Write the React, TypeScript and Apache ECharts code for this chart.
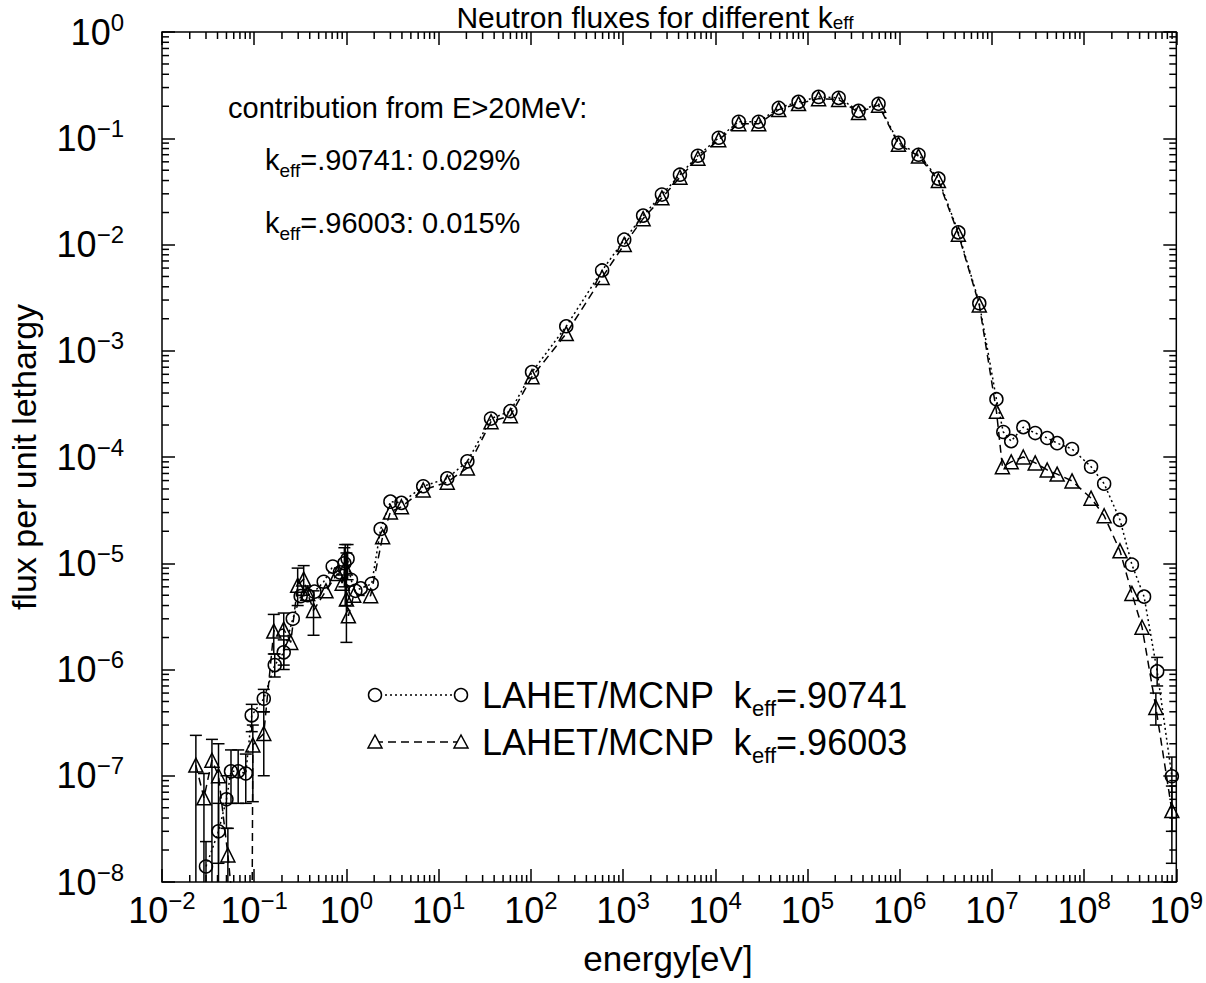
import React, { useEffect, useRef } from "react";
import * as echarts from "echarts";

// ---- data (energy in eV, flux per unit lethargy) ----
const energyA = [
  0.03, 0.041, 0.05, 0.056, 0.067, 0.081, 0.094, 0.127, 0.167, 0.209, 0.262, 0.319, 0.38, 0.45,
  0.567, 0.71, 0.85, 0.95, 1.03, 1.12, 1.25, 1.43, 1.88, 2.35, 3.0, 3.95, 6.8, 12.4, 20.5, 37, 60,
  103, 242, 593, 1030, 1650, 2640, 4140, 6480, 1.09e4, 1.8e4, 2.96e4, 4.88e4, 8.0e4, 1.32e5,
  2.18e5, 3.58e5, 5.9e5, 9.7e5, 1.6e6, 2.63e6, 4.33e6, 7.3e6, 1.12e7, 1.33e7, 1.62e7, 2.19e7,
  2.95e7, 3.98e7, 5.1e7, 7.4e7, 1.19e8, 1.65e8, 2.45e8, 3.3e8, 4.47e8, 6.2e8, 8.95e8,
];
const fluxA = [
  1.4e-8, 3.0e-8, 6.0e-8, 1.1e-7, 1.1e-7, 1.05e-7, 3.7e-7, 5.3e-7, 1.1e-6, 1.45e-6, 3.0e-6, 4.9e-6,
  5.0e-6, 5.4e-6, 6.7e-6, 9.3e-6, 8.2e-6, 1.0e-5, 1.1e-5, 7.0e-6, 5.5e-6, 5.8e-6, 6.4e-6, 2.1e-5,
  3.8e-5, 3.7e-5, 5.3e-5, 6.3e-5, 9.1e-5, 2.3e-4, 2.7e-4, 6.3e-4, 1.7e-3, 5.7e-3, 1.11e-2, 1.87e-2,
  2.95e-2, 4.54e-2, 6.85e-2, 0.101, 0.143, 0.143, 0.193, 0.22, 0.245, 0.24, 0.181, 0.211, 0.0907,
  0.07, 0.0417, 0.013, 2.8e-3, 3.5e-4, 1.72e-4, 1.41e-4, 1.91e-4, 1.68e-4, 1.51e-4, 1.35e-4,
  1.19e-4, 8.1e-5, 5.6e-5, 2.56e-5, 9.7e-6, 4.85e-6, 9.6e-7, 9.9e-8,
];

const energyB = [
  0.0233, 0.0285, 0.0348, 0.041, 0.0518, 0.093, 0.0966, 0.127, 0.163, 0.209, 0.249, 0.296, 0.344,
  0.38, 0.44, 0.6, 0.8, 0.9, 0.97, 1.0, 1.05, 1.2, 1.83, 2.47, 3.0, 3.95, 6.8, 12.4, 20.5, 37, 60,
  103, 242, 593, 1030, 1650, 2640, 4140, 6480, 1.09e4, 1.8e4, 2.96e4, 4.88e4, 8.0e4, 1.32e5,
  2.18e5, 3.58e5, 5.9e5, 9.7e5, 1.6e6, 2.63e6, 4.33e6, 7.3e6, 1.12e7, 1.3e7, 1.62e7, 2.19e7,
  2.95e7, 3.98e7, 5.1e7, 7.4e7, 1.19e8, 1.65e8, 2.45e8, 3.3e8, 4.25e8, 6.0e8, 8.95e8,
];
const fluxB = [
  1.26e-7, 6.2e-8, 1.4e-7, 1.0e-7, 1.8e-8, 1e-10, 1.95e-7, 2.5e-7, 2.3e-6, 2.4e-6, 1.8e-6, 6.2e-6,
  7.1e-6, 5.2e-6, 3.6e-6, 5.5e-6, 8.0e-6, 6.5e-6, 9.0e-6, 4.6e-6, 3.2e-6, 5.0e-6, 4.95e-6, 1.78e-5,
  3.04e-5, 3.4e-5, 4.9e-5, 5.8e-5, 7.9e-5, 2.15e-4, 2.45e-4, 5.7e-4, 1.45e-3, 4.9e-3, 1.0e-2,
  1.75e-2, 2.75e-2, 4.3e-2, 6.5e-2, 0.097, 0.137, 0.137, 0.186, 0.212, 0.236, 0.232, 0.175, 0.205,
  0.088, 0.068, 0.04, 0.0125, 2.7e-3, 2.7e-4, 8.1e-5, 9.0e-5, 1.0e-4, 8.8e-5, 7.55e-5, 6.9e-5,
  5.95e-5, 4.1e-5, 2.8e-5, 1.31e-5, 5.2e-6, 2.5e-6, 4.4e-7, 4.7e-8,
];

// error bars (energy, lower, upper)
const errEnergyA = [0.03, 0.041, 0.05, 0.056, 0.067, 0.081, 0.094, 0.127, 0.167, 0.209, 0.95, 1.03, 6.2e8, 8.95e8];
const errLowA = [1e-9, 1.5e-8, 3.2e-8, 5.5e-8, 5.5e-8, 5.5e-8, 2.6e-7, 4.0e-7, 8.5e-7, 1.0e-6, 6e-6, 7e-6, 7e-7, 3e-8];
const errHighA = [2.4e-8, 5.5e-8, 1.0e-7, 1.75e-7, 1.75e-7, 1.6e-7, 4.7e-7, 6.5e-7, 1.4e-6, 1.9e-6, 1.4e-5, 1.5e-5, 1.3e-6, 1.5e-7];

const errEnergyB = [0.0233, 0.0285, 0.0348, 0.041, 0.0518, 0.0966, 0.127, 0.163, 0.209, 0.296, 0.344, 0.44, 0.97, 1.0, 6.0e8, 8.95e8];
const errLowB = [1e-9, 1e-9, 1e-9, 1e-9, 1e-9, 5.7e-8, 1.0e-7, 1.4e-6, 1.1e-6, 4e-6, 5e-6, 2.1e-6, 4e-6, 1.8e-6, 3e-7, 1.5e-8];
const errHighB = [2.4e-7, 1.05e-7, 2.2e-7, 2.0e-7, 3.2e-8, 3.0e-7, 4.0e-7, 3.3e-6, 3.4e-6, 9e-6, 9.5e-6, 5.5e-6, 1.5e-5, 1.25e-5, 6e-7, 8e-8];

const xMin = 1e-2;
const xMax = 1e9;
const yMin = 1e-8;
const yMax = 1;

const FONT = "'Liberation Sans', Arial, Helvetica, sans-serif";

const expLabel = (v: number) => {
  const e = Math.round(Math.log10(v));
  const s = e < 0 ? "\u2212" + -e : String(e);
  return `{b|10}{s|${s}}`;
};

const tickRich = {
  b: { fontSize: 36, fontFamily: FONT, color: "#000", lineHeight: 44, verticalAlign: "middle" },
  s: { fontSize: 24, fontFamily: FONT, color: "#000", lineHeight: 24, verticalAlign: "top" },
};

function App() {
  const ref = useRef<HTMLDivElement>(null);

  useEffect(() => {
    if (!ref.current) return;
    const chart = echarts.init(ref.current, null, { renderer: "svg" });

    // minor tick positions (2..9 in every decade) for axis decoration
    const minorX: number[][] = [];
    for (let k = -2; k < 9; k++) for (let m = 2; m <= 9; m++) minorX.push([m * Math.pow(10, k), 1e-4]);
    const minorY: number[][] = [];
    for (let k = -8; k < 0; k++) for (let m = 2; m <= 9; m++) minorY.push([1, m * Math.pow(10, k)]);

    const black = "#000";

    const errSeries = (E: number[], lo: number[], hi: number[]) => ({
      type: "custom",
      coordinateSystem: "cartesian2d",
      clip: true,
      silent: true,
      z: 1,
      encode: { x: 0, y: [1, 2] },
      data: E.map((e, i) => [e, lo[i], hi[i]]),
      renderItem: (params: any, api: any) => {
        const e = api.value(0);
        const pLo = api.coord([e, api.value(1)]);
        const pHi = api.coord([e, api.value(2)]);
        const w = 6;
        return {
          type: "group",
          children: [
            { type: "line", shape: { x1: pLo[0], y1: pLo[1], x2: pHi[0], y2: pHi[1] }, style: { stroke: black, lineWidth: 1.5 } },
            { type: "line", shape: { x1: pHi[0] - w, y1: pHi[1], x2: pHi[0] + w, y2: pHi[1] }, style: { stroke: black, lineWidth: 1.5 } },
            { type: "line", shape: { x1: pLo[0] - w, y1: pLo[1], x2: pLo[0] + w, y2: pLo[1] }, style: { stroke: black, lineWidth: 1.5 } },
          ],
        };
      },
    });

    const option: any = {
      animation: false,
      backgroundColor: "#fff",
      grid: {
        left: 162,
        right: 29,
        top: 32,
        bottom: 101,
        show: true,
        borderColor: black,
        borderWidth: 1.5,
        backgroundColor: "transparent",
      },
      xAxis: [
        {
          type: "log",
          logBase: 10,
          min: xMin,
          max: xMax,
          interval: 1,
          position: "bottom",
          axisLine: { show: false },
          axisTick: { show: true, inside: true, length: 13, lineStyle: { color: black, width: 1.5 } },
          splitLine: { show: false },
          axisLabel: {
            show: true,
            margin: 6,
            formatter: expLabel,
            rich: tickRich,
            showMinLabel: true,
            showMaxLabel: true,
            hideOverlap: false,
          },
        },
        {
          type: "log",
          logBase: 10,
          min: xMin,
          max: xMax,
          interval: 1,
          position: "top",
          axisLine: { show: false },
          axisTick: { show: true, inside: true, length: 13, lineStyle: { color: black, width: 1.5 } },
          splitLine: { show: false },
          axisLabel: { show: false },
        },
      ],
      yAxis: [
        {
          type: "log",
          logBase: 10,
          min: yMin,
          max: yMax,
          interval: 1,
          position: "left",
          axisLine: { show: false },
          axisTick: { show: true, inside: true, length: 13, lineStyle: { color: black, width: 1.5 } },
          splitLine: { show: false },
          axisLabel: {
            show: true,
            margin: 38,
            formatter: expLabel,
            rich: tickRich,
            showMinLabel: true,
            showMaxLabel: true,
            hideOverlap: false,
          },
        },
        {
          type: "log",
          logBase: 10,
          min: yMin,
          max: yMax,
          interval: 1,
          position: "right",
          axisLine: { show: false },
          axisTick: { show: true, inside: true, length: 13, lineStyle: { color: black, width: 1.5 } },
          splitLine: { show: false },
          axisLabel: { show: false },
        },
      ],
      series: [
        {
          type: "custom",
          coordinateSystem: "cartesian2d",
          silent: true,
          data: minorX,
          renderItem: (params: any, api: any) => {
            const cs = params.coordSys;
            const x = api.coord([api.value(0), 1e-4])[0];
            const top = cs.y;
            const bot = cs.y + cs.height;
            return {
              type: "group",
              children: [
                { type: "line", shape: { x1: x, y1: bot, x2: x, y2: bot - 7 }, style: { stroke: black, lineWidth: 1.5 } },
                { type: "line", shape: { x1: x, y1: top, x2: x, y2: top + 7 }, style: { stroke: black, lineWidth: 1.5 } },
              ],
            };
          },
        },
        {
          type: "custom",
          coordinateSystem: "cartesian2d",
          silent: true,
          data: minorY,
          renderItem: (params: any, api: any) => {
            const cs = params.coordSys;
            const y = api.coord([1, api.value(1)])[1];
            const l = cs.x;
            const r = cs.x + cs.width;
            return {
              type: "group",
              children: [
                { type: "line", shape: { x1: l, y1: y, x2: l + 7, y2: y }, style: { stroke: black, lineWidth: 1.5 } },
                { type: "line", shape: { x1: r, y1: y, x2: r - 7, y2: y }, style: { stroke: black, lineWidth: 1.5 } },
              ],
            };
          },
        },
        errSeries(errEnergyA, errLowA, errHighA),
        errSeries(errEnergyB, errLowB, errHighB),
        {
          name: "LAHET/MCNP keff=.90741",
          type: "line",
          data: energyA.map((e, i) => [e, fluxA[i]]),
          symbol: "circle",
          symbolSize: 13,
          showAllSymbol: true,
          clip: true,
          z: 3,
          lineStyle: { color: black, width: 1.5, type: [2, 3] },
          itemStyle: { color: "rgba(255,255,255,0)", borderColor: black, borderWidth: 1.5 },
        },
        {
          name: "LAHET/MCNP keff=.96003",
          type: "line",
          data: energyB.map((e, i) => [e, fluxB[i]]),
          symbol: "triangle",
          symbolSize: 14,
          showAllSymbol: true,
          clip: true,
          z: 3,
          lineStyle: { color: black, width: 1.5, type: [8, 5] },
          itemStyle: { color: "rgba(255,255,255,0)", borderColor: black, borderWidth: 1.5 },
        },
      ],
      graphic: [
        // title
        {
          type: "text",
          x: 655,
          y: 17,
          style: {
            text: "{a|Neutron fluxes for different k}{s|eff}",
            align: "center",
            verticalAlign: "middle",
            rich: {
              a: { fontSize: 30, fontFamily: FONT, fill: black, lineHeight: 30, verticalAlign: "middle" },
              s: { fontSize: 19, fontFamily: FONT, fill: black, lineHeight: 19, verticalAlign: "bottom" },
            },
          },
        },
        // annotation
        {
          type: "text",
          x: 228,
          y: 108,
          style: { text: "contribution from E>20MeV:", font: `29px ${FONT}`, fill: black, align: "left", verticalAlign: "middle" },
        },
        {
          type: "text",
          x: 265,
          y: 160,
          style: {
            text: "{a|k}{s|eff}{a|=.90741: 0.029%}",
            align: "left",
            verticalAlign: "middle",
            rich: {
              a: { fontSize: 29, fontFamily: FONT, fill: black, lineHeight: 40, verticalAlign: "middle" },
              s: { fontSize: 19, fontFamily: FONT, fill: black, lineHeight: 19, verticalAlign: "bottom" },
            },
          },
        },
        {
          type: "text",
          x: 265,
          y: 223,
          style: {
            text: "{a|k}{s|eff}{a|=.96003: 0.015%}",
            align: "left",
            verticalAlign: "middle",
            rich: {
              a: { fontSize: 29, fontFamily: FONT, fill: black, lineHeight: 40, verticalAlign: "middle" },
              s: { fontSize: 19, fontFamily: FONT, fill: black, lineHeight: 19, verticalAlign: "bottom" },
            },
          },
        },
        // legend entry 1
        { type: "line", shape: { x1: 375, y1: 695, x2: 461, y2: 695 }, style: { stroke: black, lineWidth: 1.5, lineDash: [2, 3] } },
        { type: "circle", shape: { cx: 375, cy: 695, r: 6.5 }, style: { fill: "#fff", stroke: black, lineWidth: 1.5 } },
        { type: "circle", shape: { cx: 461, cy: 695, r: 6.5 }, style: { fill: "#fff", stroke: black, lineWidth: 1.5 } },
        {
          type: "text",
          x: 482,
          y: 695,
          style: {
            text: "{a|LAHET/MCNP  k}{s|eff}{a|=.90741}",
            align: "left",
            verticalAlign: "middle",
            rich: {
              a: { fontSize: 36, fontFamily: FONT, fill: black, lineHeight: 48, verticalAlign: "middle" },
              s: { fontSize: 22, fontFamily: FONT, fill: black, lineHeight: 22, verticalAlign: "bottom" },
            },
          },
        },
        // legend entry 2
        { type: "line", shape: { x1: 375, y1: 742, x2: 461, y2: 742 }, style: { stroke: black, lineWidth: 1.5, lineDash: [8, 5] } },
        { type: "polygon", shape: { points: [[375, 735], [368, 748], [382, 748]] }, style: { fill: "#fff", stroke: black, lineWidth: 1.5 } },
        { type: "polygon", shape: { points: [[461, 735], [454, 748], [468, 748]] }, style: { fill: "#fff", stroke: black, lineWidth: 1.5 } },
        {
          type: "text",
          x: 482,
          y: 742,
          style: {
            text: "{a|LAHET/MCNP  k}{s|eff}{a|=.96003}",
            align: "left",
            verticalAlign: "middle",
            rich: {
              a: { fontSize: 36, fontFamily: FONT, fill: black, lineHeight: 48, verticalAlign: "middle" },
              s: { fontSize: 22, fontFamily: FONT, fill: black, lineHeight: 22, verticalAlign: "bottom" },
            },
          },
        },
        // axis names
        {
          type: "text",
          x: 24,
          y: 457,
          rotation: Math.PI / 2,
          style: { text: "flux per unit lethargy", font: `34px ${FONT}`, fill: black, align: "center", verticalAlign: "middle" },
        },
        {
          type: "text",
          x: 668,
          y: 958,
          style: { text: "energy[eV]", font: `35px ${FONT}`, fill: black, align: "center", verticalAlign: "middle" },
        },
      ],
    };

    chart.setOption(option);
    return () => chart.dispose();
  }, []);

  return (
    <div
      ref={ref}
      style={{ position: "fixed", left: 0, top: 0, width: 1206, height: 983, background: "#fff" }}
    />
  );
}

export default App;
